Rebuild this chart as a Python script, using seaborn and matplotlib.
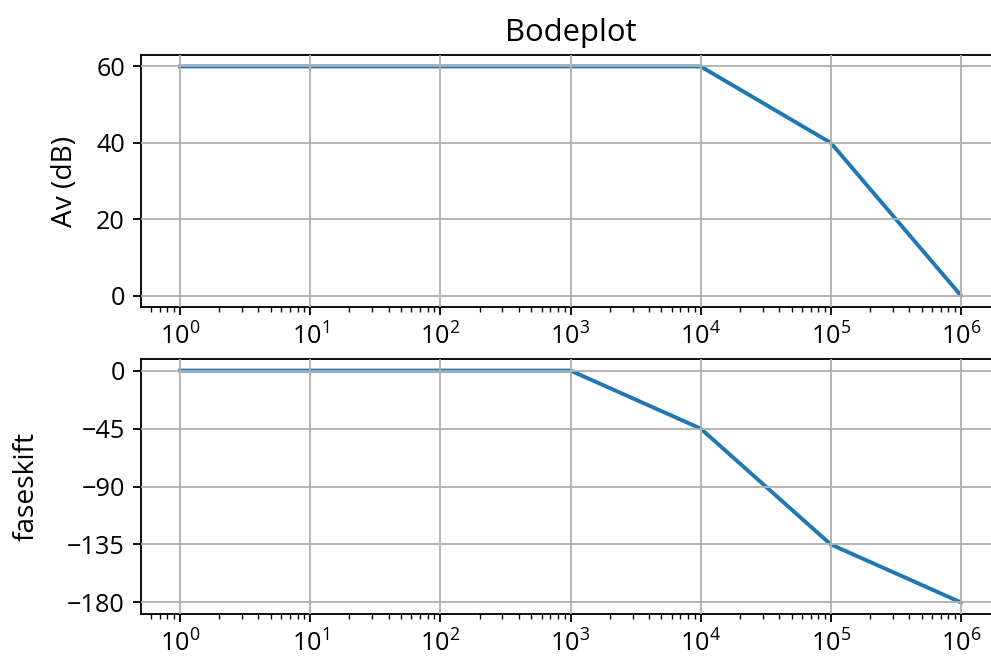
import matplotlib
matplotlib.use("Agg")
import matplotlib.pyplot as plt
import matplotlib.ticker as mticker
import seaborn as sns
import pandas as pd

freq = [1, 10, 100, 1000, 10000, 100000, 1000000]
gain_db = [60, 60, 60, 60, 60, 40, 0]
phase_deg = [0, 0, 0, 0, -45, -135, -180]
gain_ticks = [0, 20, 40, 60]
phase_ticks = [0, -45, -90, -135, -180]
freq_ticks = [1, 10, 100, 1000, 10000, 100000, 1000000]

plt.rcParams['font.family'] = ['Open Sans', 'DejaVu Sans']
plt.rcParams['axes.unicode_minus'] = True
plt.rcParams['xtick.labelsize'] = 11
plt.rcParams['ytick.labelsize'] = 11
plt.rcParams['axes.labelsize'] = 12.3

df = pd.DataFrame({"freq": freq, "gain": gain_db, "phase": phase_deg})

dpi = 165
fig = plt.figure(figsize=(991 / dpi, 664 / dpi), dpi=dpi)
W, H = 991, 664
left, right = 141, 1000
ax1 = fig.add_axes([left / W, (H - 307) / H, (right - left) / W, (307 - 55) / H])
ax2 = fig.add_axes([left / W, (H - 614) / H, (right - left) / W, (614 - 359) / H])

for ax in (ax1, ax2):
    ax.set_xscale('log')

sns.lineplot(data=df, x="freq", y="gain", ax=ax1, color="#1f77b4", linewidth=1.7)
sns.lineplot(data=df, x="freq", y="phase", ax=ax2, color="#1f77b4", linewidth=1.7)

ax1.set_title("Bodeplot", fontsize=13.5)
ax1.set_ylabel("Av (dB)", labelpad=7.5)
ax2.set_ylabel("faseskift", labelpad=11.5)
ax1.set_yticks(gain_ticks)
ax2.set_yticks(phase_ticks)
for ax in (ax1, ax2):
    ax.set_xlabel("")
    ax.xaxis.set_major_locator(mticker.FixedLocator(freq_ticks))
    ax.xaxis.set_major_formatter(mticker.LogFormatterSciNotation())
    ax.grid(True, which='major')
    ax.set_axisbelow(False)

fig.savefig("out.png", dpi=dpi)
